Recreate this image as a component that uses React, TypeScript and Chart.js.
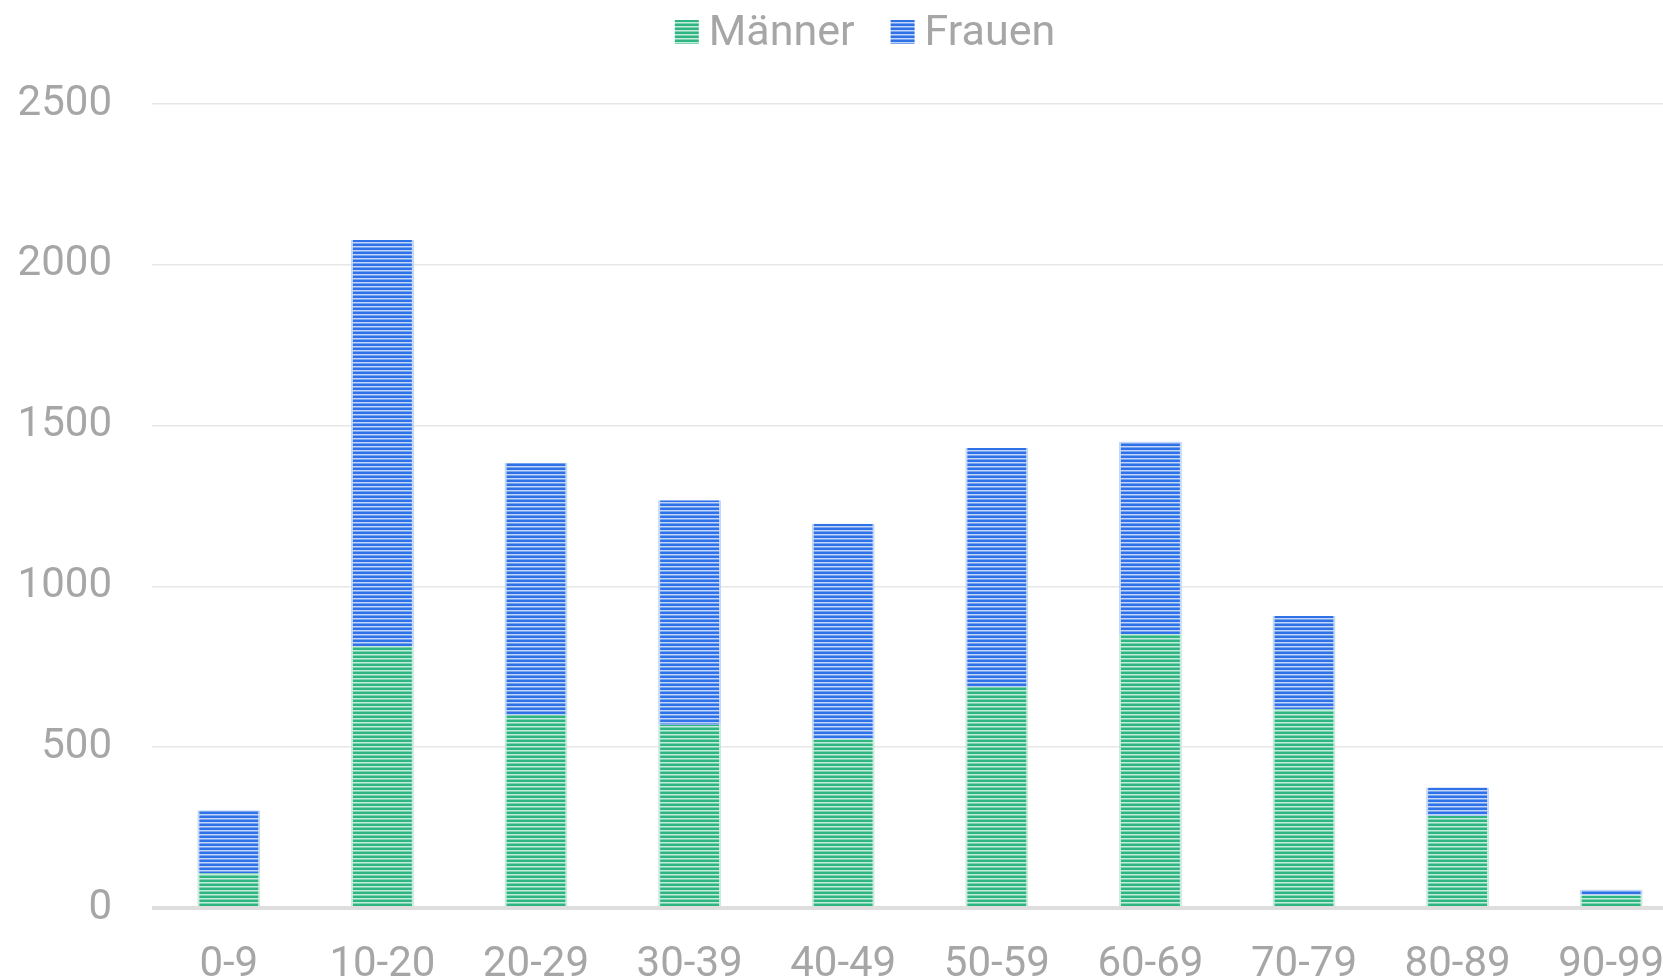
import React, { useEffect, useRef } from 'react';
import { Chart, registerables } from 'chart.js';

Chart.register(...registerables);

const categories = ['0-9', '10-20', '20-29', '30-39', '40-49', '50-59', '60-69', '70-79', '80-89', '90-99'];
const maenner = [108, 815, 600, 570, 525, 687, 852, 618, 287, 40];
const frauen = [196, 1262, 784, 698, 670, 743, 598, 290, 88, 17];
const yMax = 2500;
const yStep = 500;

const GRAY = '#a6a6a6';
const FONT = 'Roboto';
const CANVAS_W = 1688;
const CANVAS_H = 1008;

function makeStripes(dark: string, light: string, mid: string): CanvasPattern | string {
  const c = document.createElement('canvas');
  c.width = 4;
  c.height = 4;
  const g = c.getContext('2d');
  if (!g) return dark;
  g.fillStyle = dark;
  g.fillRect(0, 0, 4, 2);
  g.fillStyle = light;
  g.fillRect(0, 2, 4, 1);
  g.fillStyle = mid;
  g.fillRect(0, 3, 4, 1);
  const p = g.createPattern(c, 'repeat');
  return p || dark;
}

const legendPlugin = {
  id: 'stripedLegend',
  afterDraw(chart: any) {
    const ctx: CanvasRenderingContext2D = chart.ctx;
    const items = chart.data.datasets.map((ds: any) => ({ text: ds.label as string, fill: ds.backgroundColor }));
    ctx.save();
    ctx.font = `43px ${FONT}`;
    ctx.textBaseline = 'alphabetic';
    ctx.textAlign = 'left';
    const box = 24;
    const gap = 10;
    const itemGap = 36;
    const widths = items.map((it: any) => ctx.measureText(it.text).width);
    let total = 0;
    widths.forEach((w: number, i: number) => {
      total += box + gap + w + (i > 0 ? itemGap : 0);
    });
    const center = 865;
    let x = center - total / 2;
    const baseline = 45;
    items.forEach((it: any, i: number) => {
      ctx.fillStyle = it.fill;
      ctx.fillRect(x, 20, box, box);
      ctx.fillStyle = GRAY;
      ctx.fillText(it.text, x + box + gap, baseline);
      x += box + gap + widths[i] + itemGap;
    });
    ctx.restore();
  },
};

export default function App() {
  const ref = useRef<HTMLCanvasElement | null>(null);

  useEffect(() => {
    if (!ref.current) return;
    const green = makeStripes('#2eb582', '#c4ecdc', '#7fd2b0');
    const blue = makeStripes('#2f71e6', '#c0d5f8', '#78a3ee');
    const chart = new Chart(ref.current, {
      type: 'bar',
      data: {
        labels: categories,
        datasets: [
          {
            label: 'Männer',
            data: maenner,
            backgroundColor: green as any,
            borderColor: 'rgba(175,228,205,0.7)',
            borderWidth: { left: 2, right: 2, top: 0, bottom: 0 },
            borderSkipped: false,
            barPercentage: 0.41,
            categoryPercentage: 1,
          },
          {
            label: 'Frauen',
            data: frauen,
            backgroundColor: blue as any,
            borderColor: 'rgba(170,198,245,0.7)',
            borderWidth: { left: 2, right: 2, top: 0, bottom: 0 },
            borderSkipped: false,
            barPercentage: 0.41,
            categoryPercentage: 1,
          },
        ],
      },
      options: {
        responsive: false,
        animation: false,
        layout: { padding: { left: 0, right: 0, top: 104, bottom: 0 } },
        plugins: {
          tooltip: { enabled: false },
          legend: { display: false },
        },
        scales: {
          x: {
            stacked: true,
            afterFit: (scale: any) => {
              scale.height = 100;
              scale.paddingLeft = 0;
              scale.paddingRight = 0;
            },
            grid: { display: false, drawTicks: false },
            border: { display: false },
            ticks: {
              color: GRAY,
              font: { family: FONT, size: 42 },
              padding: 32,
              maxRotation: 0,
              autoSkip: false,
            },
          },
          y: {
            stacked: true,
            min: 0,
            max: yMax,
            afterFit: (scale: any) => {
              scale.width = 152;
            },
            grid: {
              drawTicks: false,
              color: (ctx: any) => (ctx.tick && ctx.tick.value === 0 ? '#dedede' : '#e7e7e7'),
              lineWidth: (ctx: any) => (ctx.tick && ctx.tick.value === 0 ? 4 : 1.5),
            },
            border: { display: false },
            ticks: {
              stepSize: yStep,
              color: GRAY,
              font: { family: FONT, size: 42 },
              padding: 40,
              callback: (value: any) => String(value),
            },
          },
        },
      },
      plugins: [legendPlugin],
    });
    return () => chart.destroy();
  }, []);

  return (
    <div
      style={{
        position: 'fixed',
        left: 0,
        top: 0,
        width: '100vw',
        height: '100vh',
        overflow: 'hidden',
        background: '#ffffff',
      }}
    >
      <canvas
        ref={ref}
        width={CANVAS_W}
        height={CANVAS_H}
        style={{ width: CANVAS_W, height: CANVAS_H, display: 'block' }}
      />
    </div>
  );
}
